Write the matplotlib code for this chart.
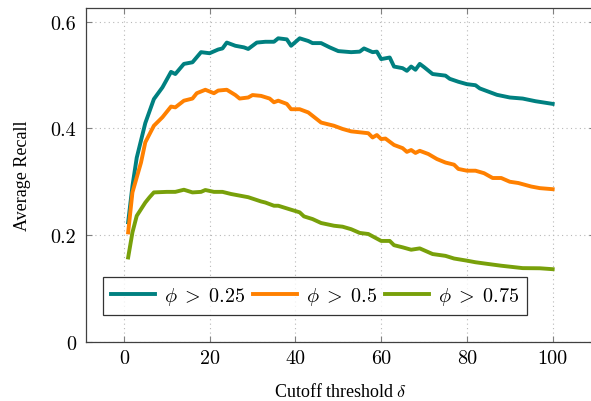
import matplotlib
matplotlib.use('Agg')
import matplotlib.pyplot as plt

# recall per cutoff threshold, one series per phi level
x_025 = [1, 2, 3, 5, 7, 9, 11, 12, 14, 16, 18, 20, 22, 23, 24, 26, 28, 29, 31, 33,
         35, 36, 38, 39, 41, 43, 44, 46, 48, 50, 53, 55, 56, 58, 59, 60, 62, 63, 65, 66,
         67, 68, 69, 70, 72, 75, 76, 78, 80, 82, 83, 85, 87, 90, 93, 96, 100]
y_025 = [0.224, 0.292, 0.345, 0.410, 0.455, 0.477, 0.506, 0.502, 0.521, 0.524,
         0.543, 0.541, 0.548, 0.550, 0.561, 0.555, 0.552, 0.549, 0.561, 0.5625,
         0.5625, 0.569, 0.567, 0.555, 0.569, 0.564, 0.560, 0.560, 0.552, 0.545,
         0.543, 0.544, 0.550, 0.543, 0.544, 0.530, 0.533, 0.516, 0.513, 0.508,
         0.516, 0.510, 0.521, 0.515, 0.502, 0.499, 0.493, 0.4875, 0.483, 0.481,
         0.475, 0.469, 0.463, 0.458, 0.456, 0.451, 0.446]

x_05 = [1, 2, 4, 5, 7, 9, 11, 12, 14, 16, 17, 19, 21, 22, 24, 26, 27, 29, 30, 32,
        34, 35, 36, 38, 39, 41, 43, 46, 49, 51, 53, 57, 58, 59, 60, 61, 63, 65, 66, 67,
        68, 69, 71, 73, 75, 77, 78, 80, 82, 84, 86, 88, 90, 92, 95, 97, 100]
y_05 = [0.205, 0.280, 0.336, 0.374, 0.405, 0.421, 0.441, 0.4395, 0.452, 0.456,
        0.466, 0.4725, 0.466, 0.471, 0.4725, 0.4626, 0.456, 0.458, 0.4626, 0.461,
        0.456, 0.449, 0.452, 0.446, 0.436, 0.436, 0.430, 0.411, 0.405, 0.399,
        0.3945, 0.391, 0.383, 0.3876, 0.380, 0.381, 0.369, 0.363, 0.356, 0.3595,
        0.354, 0.358, 0.352, 0.3426, 0.336, 0.332, 0.324, 0.3207, 0.3207, 0.316,
        0.307, 0.307, 0.300, 0.2976, 0.291, 0.288, 0.286]

x_075 = [1, 2, 3, 5, 6, 7, 10, 12, 14, 16, 18, 19, 21, 23, 25, 27, 29, 32, 33, 35,
         36, 39, 41, 42, 44, 46, 49, 51, 53, 55, 57, 60, 62, 63, 65, 67, 69, 72, 75, 77,
         80, 82, 85, 88, 93, 97, 100]
y_075 = [0.158, 0.205, 0.236, 0.261, 0.271, 0.280, 0.281, 0.281, 0.285, 0.280,
         0.281, 0.2845, 0.281, 0.281, 0.277, 0.274, 0.271, 0.263, 0.261, 0.255,
         0.255, 0.2475, 0.2426, 0.235, 0.230, 0.2226, 0.2175, 0.2157, 0.211, 0.204,
         0.202, 0.189, 0.189, 0.181, 0.177, 0.1725, 0.175, 0.1644, 0.161, 0.156,
         0.152, 0.149, 0.1457, 0.1425, 0.138, 0.1377, 0.136]

xticks = [0, 20, 40, 60, 80, 100]
yticks = [0, 0.2, 0.4, 0.6]
ytick_labels = ['0', '0.2', '0.4', '0.6']

plt.rcParams['font.family'] = 'cmr10'
plt.rcParams['mathtext.fontset'] = 'cm'
plt.rcParams['axes.formatter.use_mathtext'] = True

fig = plt.figure(figsize=(5.91, 4.02), dpi=100)
ax = fig.add_axes([0.145, 0.1475, 0.862, 0.831])

lw = 2.8
ax.plot(x_025, y_025, color='#008080', lw=lw, label=r'$\phi\;>\;0.25$')
ax.plot(x_05, y_05, color='#ff8000', lw=lw, label=r'$\phi\;>\;0.5$')
ax.plot(x_075, y_075, color='#78a00a', lw=lw, label=r'$\phi\;>\;0.75$')

ax.set_xlim(-8.9, 109.9)
ax.set_ylim(0, 0.6265)
ax.set_xticks(xticks)
ax.set_xticklabels([str(t) for t in xticks])
ax.set_yticks(yticks)
ax.set_yticklabels(ytick_labels)

ax.grid(True, linestyle=(0, (1, 3)), color='#b8b8b8', linewidth=0.8)
ax.tick_params(direction='in', top=True, right=True, length=4, width=0.8,
               color='#808080', labelsize=14.5)
ax.tick_params(axis='x', pad=5)
ax.tick_params(axis='y', pad=7)
for sp in ax.spines.values():
    sp.set_color('#404040')
    sp.set_linewidth(0.9)

ax.set_xlabel(r'Cutoff threshold $\delta$', fontsize=13, family='Liberation Serif',
              labelpad=11)
ax.set_ylabel('Average Recall', fontsize=13, family='Liberation Serif', labelpad=14)

leg = ax.legend(loc='lower left', bbox_to_anchor=(0.034, 0.08), ncol=3,
                frameon=True, fancybox=False, edgecolor='black', fontsize=14.5,
                handlelength=2.2, columnspacing=0.4, handletextpad=0.42,
                borderpad=0.4, borderaxespad=0)
leg.get_frame().set_linewidth(0.9)

fig.savefig('out.png', dpi=100)
